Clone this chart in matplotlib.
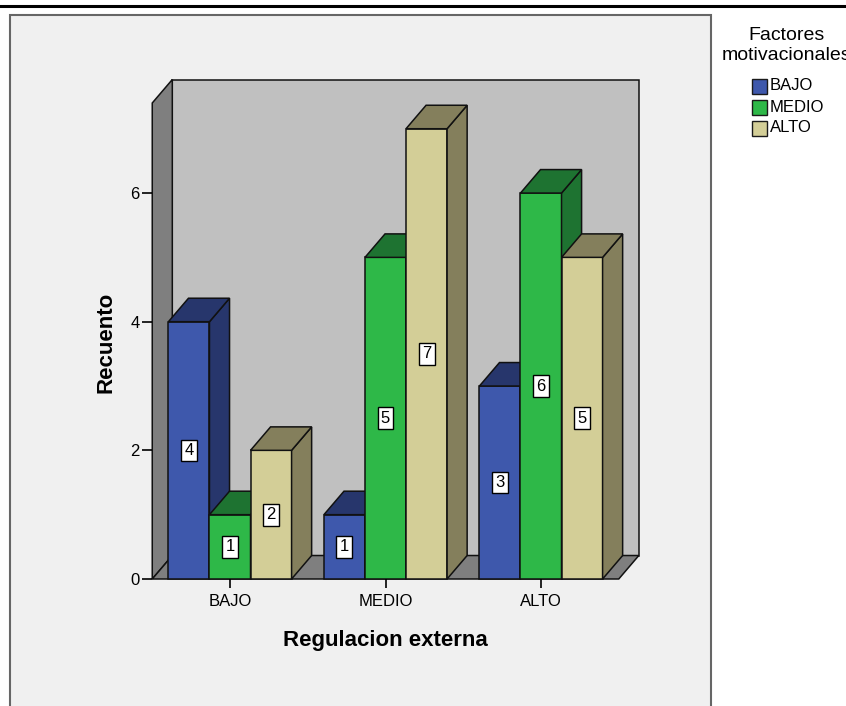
import matplotlib
matplotlib.use('Agg')
import matplotlib.pyplot as plt
from matplotlib.patches import Polygon, Rectangle
from matplotlib.lines import Line2D

plt.rcParams['font.family'] = ['Liberation Sans', 'DejaVu Sans']

# recuento por categoria de Regulacion externa
categories = ['BAJO', 'MEDIO', 'ALTO']
series_names = ['BAJO', 'MEDIO', 'ALTO']
counts_bajo = [4, 1, 3]
counts_medio = [1, 5, 6]
counts_alto = [2, 7, 5]
yticks = [0, 2, 4, 6]

front_colors = ['#3e58ac', '#2eb848', '#d3ce97']
side_colors = ['#27366c', '#1e7331', '#847f5c']

W, H = 846, 706
fig = plt.figure(figsize=(W / 100, H / 100), dpi=100)


def fx(x):
    return x / W


def fy(y):
    return 1 - y / H


# marco de la salida
fig.add_artist(Rectangle((fx(10), fy(740)), fx(711) - fx(10), fy(15) - fy(740),
                         facecolor='#f0f0f0', edgecolor='#666666', lw=1.5,
                         transform=fig.transFigure, zorder=-10))
fig.add_artist(Line2D([0, 1], [fy(6), fy(6)], color='black', lw=2.2,
                      transform=fig.transFigure, zorder=-10))

ax = fig.add_axes([fx(152.25), fy(579), (618.75 - 152.25) / W, (579 - 103) / H])
ax.set_xlim(-0.5, 2.5)
ax.set_ylim(0, 7.4)
ax.patch.set_visible(False)
for s in ax.spines.values():
    s.set_visible(False)

dx, dy = 0.129, 0.365
x0, x1, ytop = -0.5, 2.5, 7.4


def poly(pts, fc):
    ax.add_patch(Polygon(pts, closed=True, facecolor=fc, edgecolor='#111111',
                         lw=1.1, clip_on=False, joinstyle='miter'))


# paredes y suelo
poly([(x0 + dx, dy), (x1 + dx, dy), (x1 + dx, ytop + dy), (x0 + dx, ytop + dy)], '#c0c0c0')
poly([(x0, 0), (x0 + dx, dy), (x0 + dx, ytop + dy), (x0, ytop)], '#7f7f7f')
poly([(x0, 0), (x1, 0), (x1 + dx, dy), (x0 + dx, dy)], '#7f7f7f')

values = [counts_bajo, counts_medio, counts_alto]
width = 0.264
for i in range(len(categories)):
    for j in range(len(series_names)):
        h = values[j][i]
        left = i + (j - 1.5) * width
        right = left + width
        poly([(left, 0), (right, 0), (right, h), (left, h)], front_colors[j])
        poly([(right, 0), (right + dx, dy), (right + dx, h + dy), (right, h)], side_colors[j])
        poly([(left, h), (right, h), (right + dx, h + dy), (left + dx, h + dy)], side_colors[j])
        ax.text(left + width / 2, h / 2, str(h), ha='center', va='center', fontsize=12,
                bbox=dict(boxstyle='square,pad=0.2', fc='white', ec='black', lw=1))

ax.set_yticks(yticks)
ax.set_xticks(range(len(categories)), categories)
ax.tick_params(axis='y', length=7, width=1.2, labelsize=12, pad=2)
ax.tick_params(axis='x', length=6.5, width=1.2, labelsize=12, pad=4)

ax.set_xlabel('Regulacion externa', fontsize=16, fontweight='bold')
ax.xaxis.set_label_coords(0.5, -(630 - 579) / 476)
ax.set_ylabel('Recuento', fontsize=16, fontweight='bold')
ax.yaxis.set_label_coords(-(152 - 116) / 466.5, 0.498)

# leyenda
fig.text(fx(786), fy(35), 'Factores', ha='center', va='center', fontsize=14)
fig.text(fx(786), fy(56), 'motivacionales', ha='center', va='center', fontsize=14)
for k, name in enumerate(series_names):
    yc = 86 + 21 * k
    fig.add_artist(Rectangle((fx(752), fy(yc + 7.5)), 15 / W, 15 / H,
                             facecolor=front_colors[k], edgecolor='#1a1a1a', lw=1,
                             transform=fig.transFigure))
    fig.text(fx(770), fy(yc), name, ha='left', va='center', fontsize=12)

fig.savefig('out.png', dpi=100)
